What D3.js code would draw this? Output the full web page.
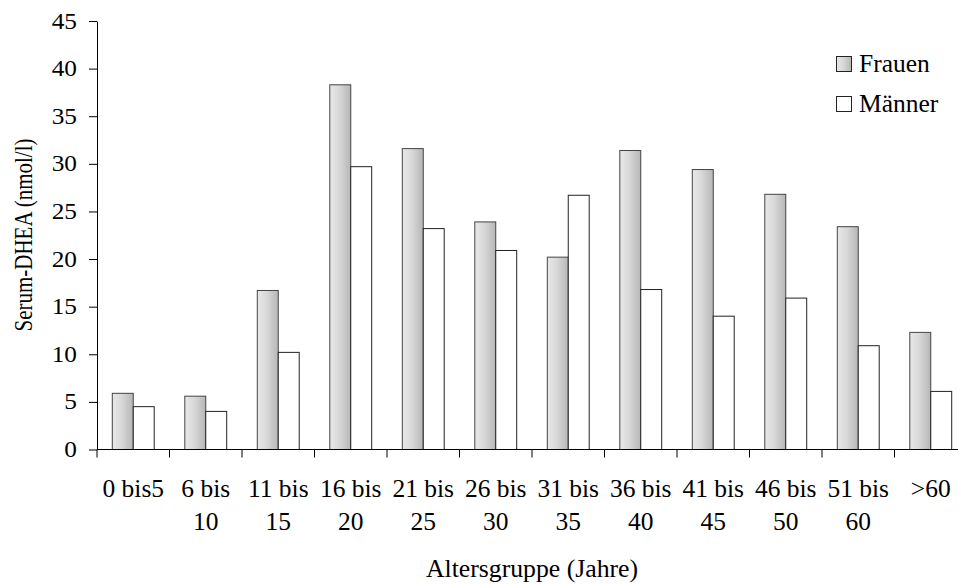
<!DOCTYPE html>
<html>
<head>
<meta charset="utf-8">
<script src="https://cdn.jsdelivr.net/npm/d3@7"></script>
<style>
  html, body { margin: 0; padding: 0; background: #fff; }
  svg { display: block; }
</style>
</head>
<body>
<svg id="chart" width="958" height="584"></svg>
<script>
const categories = ["0 bis5", "6 bis\n10", "11 bis\n15", "16 bis\n20", "21 bis\n25", "26 bis\n30",
    "31 bis\n35", "36 bis\n40", "41 bis\n45", "46 bis\n50", "51 bis\n60", ">60"];
const seriesNames = ["Frauen", "Männer"];
const frauen = [5.9, 5.6, 16.7, 38.3, 31.6, 23.9, 20.2, 31.4, 29.4, 26.8, 23.4, 12.3];
const maenner = [4.5, 4.0, 10.2, 29.7, 23.2, 20.9, 26.7, 16.8, 14.0, 15.9, 10.9, 6.1];
const yTicks = [0, 5, 10, 15, 20, 25, 30, 35, 40, 45];

const font = '"Liberation Serif", "Times New Roman", serif';

const svg = d3.select("#chart");

const plot = { left: 97, top: 21, right: 967, bottom: 449.5 };

const x0 = d3.scaleBand().domain(categories).range([plot.left, plot.right]);
const x1 = d3.scaleBand().domain(seriesNames).range([0, x0.bandwidth()]).paddingOuter(0.73);
const y = d3.scaleLinear().domain([0, 45]).range([plot.bottom, plot.top]);

const defs = svg.append("defs");
const grad = defs.append("linearGradient")
    .attr("id", "fgrad")
    .attr("x1", "0%").attr("x2", "100%").attr("y1", "0%").attr("y2", "0%");
grad.append("stop").attr("offset", "0%").attr("stop-color", "#e8e8e8");
grad.append("stop").attr("offset", "45%").attr("stop-color", "#d8d8d8");
grad.append("stop").attr("offset", "100%").attr("stop-color", "#b6b6b6");

const fills = { "Frauen": "url(#fgrad)", "Männer": "#ffffff" };

// text helper; sx stretches horizontally
const addText = (g, tx, ty, str, anchor, size, sx, rot) => {
    return g.append("text")
        .attr("transform", `translate(${tx},${ty}) scale(${sx},1)` + (rot ? ` rotate(${rot})` : ""))
        .attr("text-anchor", anchor)
        .attr("font-family", font)
        .attr("font-size", size)
        .attr("fill", "#000")
        .text(str);
};

// bars
const rows = categories.map((c, i) => ({ cat: c, values: [
    { key: "Frauen", value: frauen[i] },
    { key: "Männer", value: maenner[i] }
] }));

svg.append("g")
    .selectAll("g")
    .data(rows)
    .join("g")
    .attr("transform", d => `translate(${x0(d.cat)},0)`)
    .selectAll("rect")
    .data(d => d.values)
    .join("rect")
    .attr("x", d => x1(d.key))
    .attr("y", d => y(d.value))
    .attr("width", x1.bandwidth())
    .attr("height", d => y(0) - y(d.value))
    .attr("fill", d => fills[d.key])
    .attr("stroke", d => d.key === "Frauen" ? "#444" : "#222")
    .attr("stroke-width", 1);

// y axis
const yAxis = svg.append("g")
    .attr("transform", `translate(${plot.left},0)`)
    .call(d3.axisLeft(y).tickValues(yTicks).tickSize(8).tickSizeOuter(0).tickFormat(""));
yAxis.selectAll("line, path").attr("stroke", "#000");
const yLabels = svg.append("g");
yTicks.forEach(t => addText(yLabels, 77, y(t) + 7.5, String(t), "end", 23, 1.1));

// x axis
const xAxis = svg.append("g")
    .attr("transform", `translate(0,${plot.bottom})`);
xAxis.append("line")
    .attr("x1", plot.left).attr("x2", plot.right)
    .attr("stroke", "#000");
xAxis.selectAll("line.tick")
    .data(categories.concat([null]))
    .join("line")
    .attr("class", "tick")
    .attr("x1", d => d ? x0(d) : plot.right)
    .attr("x2", d => d ? x0(d) : plot.right)
    .attr("y1", 0).attr("y2", 8)
    .attr("stroke", "#000");

const xLabels = svg.append("g");
categories.forEach(c => {
    const cx = x0(c) + x0.bandwidth() / 2;
    c.split("\n").forEach((line, j) => addText(xLabels, cx, 497 + j * 33, line, "middle", 24.5, 1.04));
});

// axis titles
addText(svg, 532, 577, "Altersgruppe (Jahre)", "middle", 25, 1.03);
addText(svg, 32, 235, "Serum-DHEA (nmol/l)", "middle", 21, 1.22, -90);

// legend
const legend = svg.append("g");
seriesNames.forEach((s, i) => {
    legend.append("rect")
        .attr("x", 836.5).attr("y", 56.5 + i * 40)
        .attr("width", 15).attr("height", 15)
        .attr("fill", fills[s])
        .attr("stroke", "#222");
    addText(legend, 859, 72 + i * 40, s, "start", 25, 1.02);
});
</script>
</body>
</html>
